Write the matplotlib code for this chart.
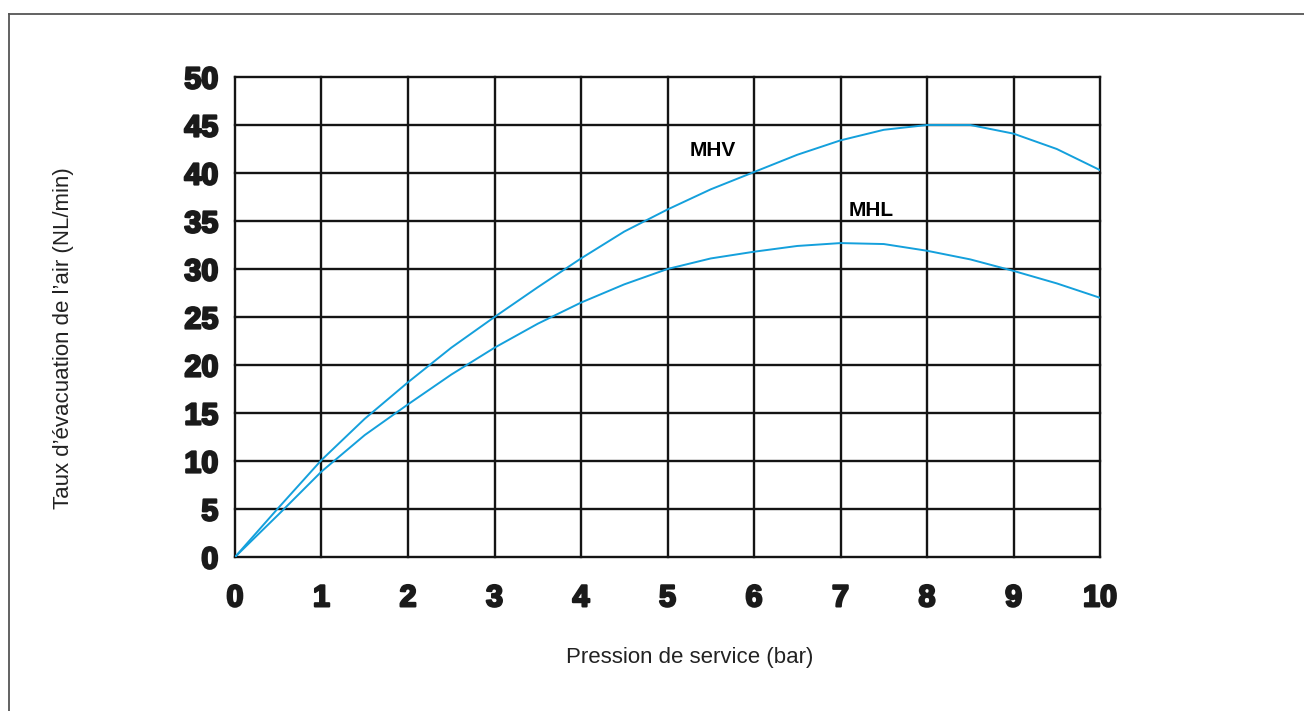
import matplotlib
matplotlib.use('Agg')
import matplotlib.pyplot as plt
import matplotlib.patheffects as pe
from matplotlib.lines import Line2D

# pression de service (bar)
pression = [0, 0.5, 1, 1.5, 2, 2.5, 3, 3.5, 4, 4.5, 5, 5.5, 6, 6.5, 7, 7.5, 8, 8.5, 9, 9.5, 10]
# taux d'évacuation (NL/min)
mhv = [0, 5.1, 10.1, 14.4, 18.2, 21.8, 25, 28.1, 31.1, 33.9, 36.2, 38.3, 40.1, 41.9, 43.4, 44.5, 45, 45, 44.1, 42.5, 40.3]
mhl = [0, 4.4, 8.9, 12.7, 15.9, 19.0, 21.8, 24.3, 26.5, 28.4, 30, 31.1, 31.8, 32.4, 32.7, 32.6, 31.9, 31, 29.8, 28.5, 27]

x_ticks = list(range(0, 11))
y_ticks = list(range(0, 55, 5))

bleu = '#14a0dc'

fig = plt.figure(figsize=(13.04, 7.11), dpi=100)
ax = fig.add_axes([0.1802, 0.2166, 0.6634, 0.6751])

ax.set_xlim(0, 10)
ax.set_ylim(0, 50)

# grille (les bords compris)
for xv in x_ticks:
    ax.axvline(xv, color='#141414', lw=1.7, zorder=1, clip_on=False)
for yv in y_ticks:
    ax.axhline(yv, color='#141414', lw=1.7, zorder=1, clip_on=False)

ax.plot(pression, mhv, color=bleu, lw=1.4, zorder=3)
ax.plot(pression, mhl, color=bleu, lw=1.4, zorder=3)

ax.text(5.26, 42.3, 'MHV', fontsize=15, fontweight='bold', family='Liberation Sans',
        va='center', ha='left')
ax.text(7.09, 36.1, 'MHL', fontsize=15, fontweight='bold', family='Liberation Sans',
        va='center', ha='left')

for s in ax.spines.values():
    s.set_visible(False)

ax.set_xticks(x_ticks)
ax.set_yticks(y_ticks)
ax.tick_params(length=0)
ax.tick_params(axis='x', pad=19)
ax.tick_params(axis='y', pad=12)
effet = [pe.withStroke(linewidth=1.6, foreground='#1a1a1a')]
for lab in ax.get_xticklabels() + ax.get_yticklabels():
    lab.set_fontfamily('Liberation Sans')
    lab.set_fontweight('bold')
    lab.set_fontsize(22)
    lab.set_color('#1a1a1a')
    lab.set_path_effects(effet)

fig.text(64 / 1304, 1 - 338 / 711, "Taux d\u2019évacuation de l\u2019air (NL/min)", rotation=90,
         ha='center', va='center', fontsize=16, family='Liberation Sans', color='#222222')
fig.text(690 / 1304, 1 - 658 / 711, 'Pression de service (bar)',
         ha='center', va='center', fontsize=16, family='Liberation Sans', color='#222222')

# cadre (haut et gauche)
fig.add_artist(Line2D([9 / 1304, 1], [1 - 14 / 711, 1 - 14 / 711], transform=fig.transFigure,
                      color='#555555', lw=1.3))
fig.add_artist(Line2D([9 / 1304, 9 / 1304], [0, 1 - 14 / 711], transform=fig.transFigure,
                      color='#555555', lw=1.3))

fig.savefig('out.png', dpi=100)
